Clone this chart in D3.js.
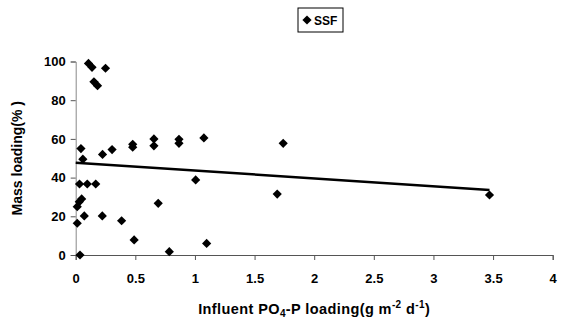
<!DOCTYPE html>
<html>
<head>
<meta charset="utf-8">
<script src="https://cdn.jsdelivr.net/npm/d3@7"></script>
<style>
  body { margin: 0; background: #fff; }
  text { font-family: Arial, "Liberation Sans", sans-serif; font-weight: bold; fill: #000; }
</style>
</head>
<body>
<div id="chart"></div>
<script>
// PO4-P loading (g m-2 d-1) and mass loading (%) for SSF
const loading = [0.107, 0.137, 0.25, 0.153, 0.183, 0.044, 0.06, 0.225, 0.305, 0.478, 0.478,
    0.656, 0.656, 0.866, 0.866, 1.075, 1.74, 0.032, 0.097, 0.168, 1.006, 0.05, 0.03, 0.013,
    0.692, 1.69, 3.47, 0.072, 0.223, 0.385, 0.013, 0.49, 0.785, 1.098, 0.036];
const massLoading = [99, 97, 96.5, 89.5, 87.5, 55, 49.5, 52, 54.5, 57.2, 55.7,
    60, 56.4, 59.8, 57.7, 60.5, 57.7, 36.7, 36.7, 36.7, 38.8, 29, 27.5, 25,
    26.7, 31.5, 31, 20.2, 20.2, 17.7, 16.4, 7.8, 1.7, 6, 0];
// linear trend line end points
const trendX = [0, 3.47];
const trendY = [47.7, 33.6];
const xTicks = [0, 0.5, 1, 1.5, 2, 2.5, 3, 3.5, 4];
const yTicks = [0, 20, 40, 60, 80, 100];

const W = 568, H = 324;
const margin = { top: 61.5, right: 15, bottom: 69, left: 75.7 };
const width = 552.7 - margin.left;
const height = 255 - margin.top;
const fontFam = "Arial, 'Liberation Sans', sans-serif";

const svg = d3.select("#chart").append("svg")
    .attr("width", W).attr("height", H);

const g = svg.append("g")
    .attr("transform", `translate(${margin.left},${margin.top})`);

const x = d3.scaleLinear().domain([0, 4]).range([0, width]);
const y = d3.scaleLinear().domain([0, 100]).range([height, 0]);

// Y axis
const yAxis = g.append("g")
    .call(d3.axisLeft(y).tickValues(yTicks).tickSize(5).tickPadding(5));
yAxis.select(".domain").attr("stroke", "#888");
yAxis.selectAll(".tick line").attr("stroke", "#555");
yAxis.selectAll("text").attr("font-size", 13).style("font-family", fontFam).style("font-weight", "bold");

// X axis
const xAxis = g.append("g")
    .attr("transform", `translate(0,${height})`)
    .call(d3.axisBottom(x).tickValues(xTicks).tickSize(5).tickPadding(14)
        .tickFormat(d => d));
xAxis.select(".domain").attr("stroke", "#555");
xAxis.selectAll(".tick line").attr("stroke", "#555");
xAxis.selectAll("text").attr("font-size", 13).style("font-family", fontFam).style("font-weight", "bold");

// trend line
const trend = trendX.map((d, i) => [d, trendY[i]]);
g.append("path")
    .datum(trend)
    .attr("fill", "none")
    .attr("stroke", "#000")
    .attr("stroke-width", 2.5)
    .attr("d", d3.line().x(d => x(d[0])).y(d => y(d[1])));

// points
const diamond = "M0,-4.6L4.6,0L0,4.6L-4.6,0Z";
const pts = loading.map((d, i) => [d, massLoading[i]]);
g.selectAll(".pt")
    .data(pts)
    .join("path")
    .attr("class", "pt")
    .attr("d", diamond)
    .attr("fill", "#000")
    .attr("transform", d => `translate(${x(d[0])},${y(d[1])})`);

// Y axis title
svg.append("text")
    .attr("transform", `translate(22,${margin.top + height / 2}) rotate(-90)`)
    .attr("text-anchor", "middle")
    .attr("font-size", 14)
    .text("Mass loading(% )");

// X axis title
const xt = svg.append("text")
    .attr("x", margin.left + width / 2)
    .attr("y", 314)
    .attr("text-anchor", "middle")
    .attr("font-size", 14.5)
    .attr("letter-spacing", 0.4);
xt.append("tspan").text("Influent PO");
xt.append("tspan").attr("font-size", 10).attr("dy", 3).text("4");
xt.append("tspan").attr("dy", -3).text("-P loading(g m");
xt.append("tspan").attr("font-size", 10).attr("dy", -6).text("-2");
xt.append("tspan").attr("dy", 6).text(" d");
xt.append("tspan").attr("font-size", 10).attr("dy", -6).text("-1");
xt.append("tspan").attr("dy", 6).text(")");

// legend
const lg = svg.append("g").attr("transform", "translate(298,8)");
lg.append("rect")
    .attr("width", 45).attr("height", 24)
    .attr("fill", "#fff").attr("stroke", "#000").attr("stroke-width", 1);
lg.append("path").attr("d", diamond).attr("fill", "#000")
    .attr("transform", "translate(9,12)");
lg.append("text").attr("x", 16).attr("y", 16.5).attr("font-size", 12).text("SSF");
</script>
</body>
</html>
